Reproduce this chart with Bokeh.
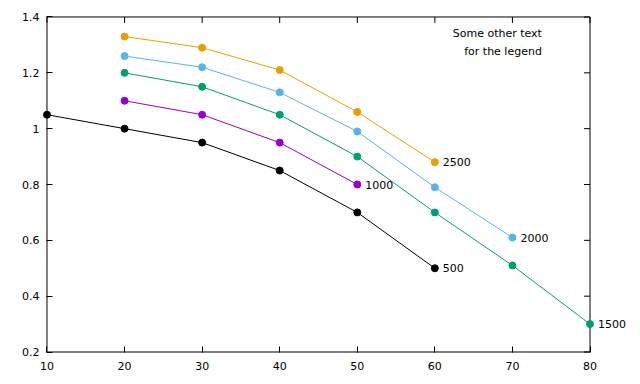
import math
from bokeh.plotting import figure
from bokeh.models import Range1d, FixedTicker, Label, CustomJSTickFormatter
from bokeh.core.properties import value
from bokeh.embed import file_html
from bokeh.resources import INLINE

x_ticks = [10, 20, 30, 40, 50, 60, 70, 80]
y_ticks = [0.2, 0.4, 0.6, 0.8, 1.0, 1.2, 1.4]

x_500 = [10, 20, 30, 40, 50, 60]
y_500 = [1.05, 1.00, 0.95, 0.85, 0.70, 0.50]
x_1000 = [20, 30, 40, 50]
y_1000 = [1.10, 1.05, 0.95, 0.80]
x_1500 = [20, 30, 40, 50, 60, 70, 80]
y_1500 = [1.20, 1.15, 1.05, 0.90, 0.70, 0.51, 0.30]
x_2000 = [20, 30, 40, 50, 60, 70]
y_2000 = [1.26, 1.22, 1.13, 0.99, 0.79, 0.61]
x_2500 = [20, 30, 40, 50, 60]
y_2500 = [1.33, 1.29, 1.21, 1.06, 0.88]

series = [
    ("500", x_500, y_500, "#000000"),
    ("1000", x_1000, y_1000, "#9400d3"),
    ("1500", x_1500, y_1500, "#009e73"),
    ("2000", x_2000, y_2000, "#56b4e9"),
    ("2500", x_2500, y_2500, "#e69f00"),
]

note_text = "Some other text\nfor the legend"
note_x = 73.8
note_y = 1.365

FONT = "DejaVu Sans"
FS = "11px"

W, H = 636, 382
box_l, box_r, box_t, box_b = 46, 590, 16, 352
xmin, xmax = x_ticks[0], x_ticks[-1]
ymin, ymax = y_ticks[0], y_ticks[-1]
# half-pixel padding so that marks on the box edges are not culled
xpad = 0.5 * (xmax - xmin) / (box_r - box_l)
ypad = 0.5 * (ymax - ymin) / (box_b - box_t)

p = figure(width=W, height=H, output_backend="svg", toolbar_location=None,
           x_range=Range1d(xmin - xpad, xmax + xpad), y_range=Range1d(ymin - ypad, ymax + ypad),
           min_border_left=box_l, min_border_right=W - box_r,
           min_border_top=box_t, min_border_bottom=H - box_b)
p.xgrid.visible = False
p.ygrid.visible = False
p.outline_line_color = None
p.background_fill_color = "white"
p.border_fill_color = "white"

fmt = CustomJSTickFormatter(code="return tick.toFixed(1).replace(/\\.0$/, '');")

for ax, ticks in ((p.xaxis[0], x_ticks), (p.yaxis[0], y_ticks)):
    ax.ticker = FixedTicker(ticks=ticks)
    ax.major_tick_in = 6
    ax.major_tick_out = 0
    ax.minor_tick_line_color = None
    ax.axis_line_color = None
    ax.major_tick_line_color = "black"
    ax.major_label_text_font = FONT
    ax.major_label_text_font_size = FS
    ax.major_label_text_color = "black"
p.yaxis[0].formatter = fmt
p.yaxis[0].major_label_standoff = 7
p.xaxis[0].major_label_standoff = 9

# border box and mirrored ticks (top and right)
p.quad(left=[xmin], right=[xmax], bottom=[ymin], top=[ymax],
       fill_color=None, line_color="black", line_width=1, level="overlay")
p.ray(x=x_ticks, y=[ymax] * len(x_ticks), length=6, length_units="screen",
      angle=-math.pi / 2, line_color="black", line_width=1, level="overlay")
p.ray(x=[xmax] * len(y_ticks), y=y_ticks, length=6, length_units="screen",
      angle=math.pi, line_color="black", line_width=1, level="overlay")

for name, xs, ys, col in series:
    p.line(xs, ys, line_color=col, line_width=1)
    p.scatter(xs, ys, size=7, fill_color=col, line_color=col, level="overlay")
    p.text(x=[xs[-1]], y=[ys[-1]], text=[name], x_offset=8, text_baseline="middle",
           text_font=value(FONT), text_font_size=value(FS), text_color="black", level="overlay")

p.add_layout(Label(x=note_x, y=note_y, text=note_text, text_align="right", text_baseline="top",
                   text_font=FONT, text_font_size=FS, text_color="black", text_line_height=1.4))

open("out.html", "w").write(file_html(p, INLINE))
